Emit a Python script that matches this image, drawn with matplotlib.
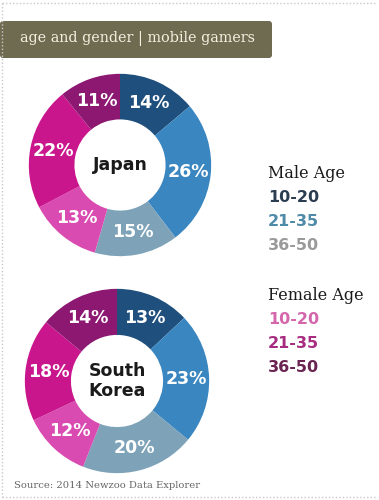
"""Age and gender of mobile gamers: Japan vs South Korea donuts."""

import matplotlib
matplotlib.use("Agg")
import matplotlib.pyplot as plt
from matplotlib.patches import FancyBboxPatch

segments = ["M 10-20", "M 21-35", "M 36-50", "F 10-20", "F 21-35", "F 36-50"]
japan = [14, 26, 15, 13, 22, 11]
korea = [13, 23, 20, 12, 18, 14]
slice_colors = ["#1f4f7d", "#3a86c0", "#7ea3b9", "#d94bb0", "#c9168d", "#8c1872"]

male_ages = ["10-20", "21-35", "36-50"]
female_ages = ["10-20", "21-35", "36-50"]
male_text = ["#2b3d50", "#4f8aa8", "#9a9a9a"]
female_text = ["#d466ac", "#a72c80", "#6b2452"]

W, H = 379, 500
fig = plt.figure(figsize=(W / 100, H / 100), dpi=100)
fig.patch.set_facecolor("white")


def donut(cx, cy, r, values, name):
    ax = fig.add_axes([(cx - r) / W, 1 - (cy + r) / H, 2 * r / W, 2 * r / H])
    ax.pie(values, colors=slice_colors, startangle=90, counterclock=False,
           radius=1, wedgeprops=dict(width=0.5, edgecolor="none"),
           labels=[f"{v}%" for v in values], labeldistance=0.75,
           textprops=dict(color="white", fontsize=12.5, fontweight="bold",
                          ha="center", va="center"))
    ax.text(0, 0, name, ha="center", va="center", fontsize=12.5,
            fontweight="bold", color="#1a1a1a", linespacing=1.1)
    ax.set_xlim(-1.02, 1.02)
    ax.set_ylim(-1.02, 1.02)
    ax.set_aspect("equal")
    ax.axis("off")


donut(120, 165, 93, japan, "Japan")
donut(117, 381, 94, korea, "South\nKorea")

# title banner
bg = fig.add_axes([0, 0, 1, 1], zorder=-1)
bg.set_xlim(0, W)
bg.set_ylim(H, 0)
bg.axis("off")
bg.add_patch(FancyBboxPatch((0, 21), 272, 37, boxstyle="round,pad=0,rounding_size=3",
                            facecolor="#6f6b50", edgecolor="none"))
fig.text(20 / W, 1 - 39 / H, "age and gender | mobile gamers", color="#f4f0e0",
         fontsize=10.4, family="DejaVu Serif", va="center", ha="left")

# dotted frame
bg.plot([2, W - 2], [3, 3], color="#c8c8c8", lw=1, ls=(0, (1, 1.5)))
bg.plot([2, W - 2], [497, 497], color="#c8c8c8", lw=1, ls=(0, (1, 1.5)))
bg.plot([2, 2], [3, 497], color="#c8c8c8", lw=1, ls=(0, (1, 1.5)))

# legend
fig.text(268 / W, 1 - 173 / H, "Male Age", color="#1a1a1a", fontsize=11.5,
         family="DejaVu Serif", va="center")
for i, (lab, c) in enumerate(zip(male_ages, male_text)):
    fig.text(268 / W, 1 - (198 + 24 * i) / H, lab, color=c, fontsize=11.5,
             fontweight="bold", va="center")
fig.text(268 / W, 1 - 296 / H, "Female Age", color="#1a1a1a", fontsize=11.5,
         family="DejaVu Serif", va="center")
for i, (lab, c) in enumerate(zip(female_ages, female_text)):
    fig.text(268 / W, 1 - (320 + 24 * i) / H, lab, color=c, fontsize=11.5,
             fontweight="bold", va="center")

fig.text(14 / W, 1 - 486 / H, "Source: 2014 Newzoo Data Explorer", color="#666666",
         fontsize=7.2, family="DejaVu Serif", va="center")

fig.savefig("out.png", dpi=100, facecolor="white")
